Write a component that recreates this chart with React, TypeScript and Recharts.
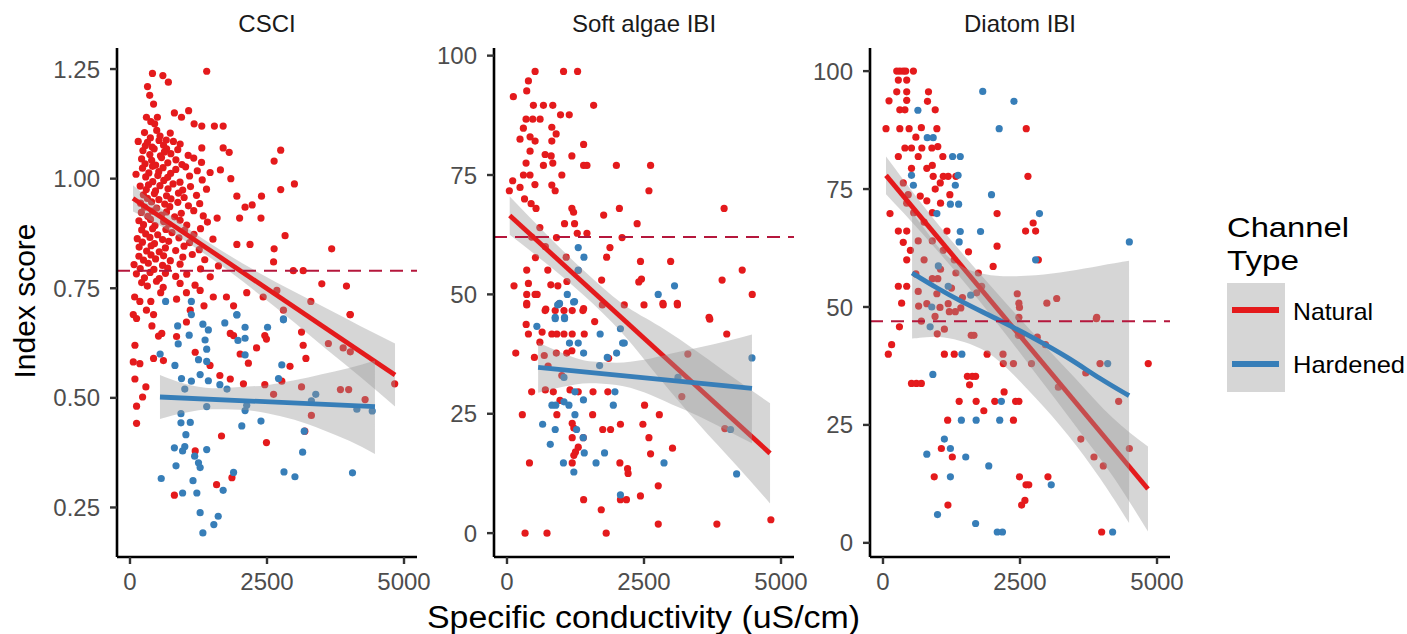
import React from 'react';
import { ComposedChart, Scatter, Line, Area, XAxis, YAxis, ReferenceLine } from 'recharts';

type P = [number, number];
type B = [number, number, number];

const RED = '#E41A1C';
const BLUE = '#377EB8';
const FONT = '"Liberation Sans", Arial, Helvetica, sans-serif';

const panelTitles = ['CSCI', 'Soft algae IBI', 'Diatom IBI'];
const seriesNames = ['Natural', 'Hardened'];
const xTicks = [0, 2500, 5000];
const csciTicks = [0.25, 0.5, 0.75, 1.0, 1.25];
const ibiTicks = [0, 25, 50, 75, 100];
const refValues = [0.79, 62, 47];
const xTitle = 'Specific conductivity (uS/cm)';
const yTitle = 'Index score';
const legendTitle = ['Channel', 'Type'];

// ---------- CSCI ----------
const csciNatural: P[] = [
  [410,1.24],[600,1.235],[700,1.22],[1400,1.245],[320,1.21],[360,1.19],[430,1.17],[300,1.14],[380,1.13],[450,1.125],
  [500,1.14],[810,1.15],[940,1.14],[1070,1.155],[1170,1.125],[1310,1.12],[1540,1.12],[1700,1.12],[150,1.085],[280,1.075],
  [1310,1.07],[1700,1.07],[1810,1.06],[2750,1.065],[2630,1.04],[110,1.01],[1650,1.02],[1840,1.0],[2750,0.975],[3000,0.988],
  [1950,0.96],[2400,0.96],[2100,0.935],[2230,0.94],[2000,0.91],[2390,0.91],[1590,0.91],[2830,0.87],[1950,0.85],[2190,0.85],
  [2630,0.84],[3680,0.84],[2620,0.81],[2980,0.79],[3160,0.79],[3950,0.755],[85,0.73],[60,0.69],[430,0.69],[4015,0.69],
  [265,1.105],[372,1.093],[488,1.11],[548,1.097],[662,1.088],[735,1.104],
  [318,1.083],[405,1.072],[530,1.087],[612,1.076],[668,1.068],[792,1.085],[915,1.079],
  [236,1.064],[362,1.055],[441,1.068],[556,1.052],[628,1.061],[745,1.057],[872,1.066],[1062,1.053],
  [212,1.045],[275,1.034],[395,1.042],[468,1.031],[575,1.048],[690,1.036],[838,1.043],[948,1.032],[1163,1.047],[1305,1.037],
  [228,1.024],[344,1.013],[411,1.028],[525,1.016],[603,1.025],[742,1.012],[836,1.021],[1015,1.027],[1228,1.018],[1462,1.014],
  [287,1.004],[415,0.993],[508,1.007],[617,0.996],[688,1.003],[912,0.992],[1087,1.006],[1318,0.997],
  [186,0.983],[297,0.975],[338,0.986],[466,0.972],[547,0.984],[694,0.977],[786,0.988],[962,0.974],[1104,0.982],[1396,0.976],
  [244,0.963],[318,0.955],[446,0.966],[527,0.952],[667,0.961],[748,0.954],[884,0.967],[988,0.957],[1214,0.962],
  [193,0.944],[266,0.935],[394,0.947],[487,0.933],[634,0.942],[726,0.936],[873,0.946],[1066,0.938],[1272,0.943],
  [208,0.923],[325,0.914],[407,0.926],[574,0.917],[667,0.924],[815,0.913],[936,0.921],[1163,0.927],[1337,0.915],
  [163,0.904],[247,0.895],[374,0.907],[456,0.893],[614,0.902],[707,0.896],[914,0.905],[1036,0.894],[1413,0.901],
  [214,0.883],[287,0.874],[413,0.886],[506,0.872],[655,0.884],[766,0.877],[994,0.882],[1167,0.873],[1287,0.886],
  [133,0.863],[227,0.855],[364,0.866],[447,0.852],[594,0.861],[706,0.857],[893,0.865],[1087,0.854],[1514,0.862],
  [167,0.844],[304,0.835],[386,0.847],[534,0.833],[646,0.842],[834,0.836],[986,0.846],[1264,0.838],
  [163,0.823],[247,0.814],[384,0.826],[467,0.817],[613,0.824],[736,0.813],[964,0.821],[1137,0.827],[1364,0.815],
  [74,0.804],[187,0.795],[334,0.807],[437,0.793],[594,0.802],[687,0.796],[914,0.805],[1287,0.794],[1614,0.801],
  [117,0.783],[264,0.774],[367,0.786],[534,0.772],[647,0.784],[834,0.777],[1036,0.782],[1464,0.776],
  [213,0.763],[317,0.755],[484,0.766],[606,0.752],[914,0.761],[1187,0.757],
  [560,0.74],[850,0.725],[1030,0.74],[1280,0.745],[1520,0.73],[1760,0.73],[1890,0.71],[2130,0.74],[2430,0.73],[2680,0.745],
  [180,0.72],[380,0.72],[300,0.7],[1100,0.7],[1350,0.71],[2800,0.7],[3300,0.72],[3500,0.76],
  [120,0.681],[400,0.664],[580,0.647],[520,0.641],[850,0.64],[1030,0.673],[90,0.62],[60,0.582],[180,0.578],[430,0.59],
  [610,0.585],[90,0.543],[290,0.525],[230,0.502],[120,0.481],[120,0.442],[1190,0.604],[1460,0.574],[1640,0.551],[1830,0.543],
  [2070,0.532],[2010,0.6],[2160,0.579],[1830,0.647],[1890,0.642],[2310,0.614],[2460,0.642],[2490,0.634],[2920,0.572],[3160,0.62],
  [3130,0.65],[3210,0.59],[2770,0.538],[2460,0.53],[2620,0.508],[3130,0.525],[3310,0.46],[3190,0.424],[3620,0.624],[3890,0.614],
  [4020,0.605],[4020,0.69],[3840,0.519],[3990,0.519],[4290,0.496],[4830,0.532],[2490,0.398],[1670,0.413],[1190,0.379],[1580,0.302],
  [1860,0.318],[810,0.278],
];
const csciHardened: P[] = [
  [650,0.72],[1120,0.72],[1950,0.69],[2800,0.68],
  [550,0.6],[820,0.574],[880,0.623],[870,0.664],[1080,0.643],[1120,0.69],[1330,0.668],[1430,0.655],[1370,0.632],[1400,0.611],
  [1250,0.587],[1400,0.583],[1280,0.553],[1120,0.538],[940,0.544],[1430,0.539],[1640,0.53],[1730,0.671],[1950,0.689],[2100,0.661],
  [2100,0.636],[1970,0.631],[2100,0.598],[2510,0.661],[2800,0.678],[2770,0.575],[2710,0.544],[1000,0.52],[930,0.464],[930,0.443],
  [1100,0.444],[1020,0.416],[810,0.386],[1000,0.389],[960,0.379],[1180,0.367],[1400,0.382],[840,0.345],[1250,0.352],[1280,0.341],
  [1150,0.311],[570,0.316],[960,0.283],[1220,0.283],[1700,0.289],[1890,0.33],[1280,0.238],[1610,0.23],[1530,0.211],[1330,0.192],
  [2040,0.436],[2390,0.447],[2100,0.471],[3150,0.376],[3180,0.424],[2810,0.331],[3010,0.32],[3390,0.508],[3310,0.493],[4060,0.329],
  [4140,0.474],[4420,0.47],[1400,0.48],[1770,0.52],[2130,0.483],
];
const csciNaturalFit: P[] = [[55, 0.955], [4836, 0.552]];
const csciHardenedFit: P[] = [[547, 0.502], [4470, 0.48]];
const csciNaturalBand: B[] = [
  [55,0.925,0.985],[600,0.889,0.929],[1200,0.842,0.874],[1800,0.79,0.826],[2400,0.732,0.782],
  [3000,0.672,0.742],[3600,0.609,0.703],[4200,0.548,0.664],[4836,0.48,0.624],
];
const csciHardenedBand: B[] = [
  [547,0.452,0.552],[1000,0.466,0.532],[1500,0.474,0.522],[2000,0.473,0.525],[2500,0.465,0.529],
  [3000,0.45,0.54],[3500,0.428,0.554],[4000,0.402,0.568],[4470,0.372,0.585],
];

// ---------- Soft algae IBI ----------
const softNatural: P[] = [
  [513,96.7],[1032,96.7],[1288,96.7],[391,94.7],[360,92.6],[116,91.4],[482,89.6],[665,89.6],[836,89.6],[977,87.6],
  [1136,87.6],[1581,89.6],[348,86.7],[470,86.7],[604,86.7],[299,84.8],[818,85],[897,83.6],[238,82.5],[421,83],
  [513,82.1],[818,82.1],[421,80],[696,79.3],[806,79],[1184,79],[1398,81.4],[1398,77],[1459,77],[1996,77],
  [2620,77],[348,77.5],[665,77],[836,77.5],[2590,71.7],[879,71.7],[104,73.8],[238,72.4],[43,71.7],[300,75],
  [420,75],[510,73],[818,72.9],[1001,75],[320,70],[440,69],[530,68],[1184,68],[1215,67.2],[1764,66.6],
  [2051,68],[3962,68],[2375,64.8],[1050,64.8],[1233,64.8],[1282,62.8],[1459,62.8],[903,61.9],[2100,61.9],[519,57.7],
  [1080,57.8],[1879,59.8],[1818,57.8],[2436,56.9],[2986,56.9],[360,55.1],[745,55.1],[1727,53],[2454,53.2],[3925,53],
  [4292,55.1],[128,51.8],[391,52.3],[928,51.8],[1093,52.7],[360,50],[513,50],[4475,50],[360,48.1],[708,46.9],
  [1398,47],[2845,48.1],[3107,48.1],[3687,45.2],[2405,52.6],
  [360,47.8],[696,46.6],[880,46.6],[1040,46.6],[1190,46.6],[1385,46.6],[350,43.7],[391,41.7],[641,42.1],[818,41.7],
  [910,41.7],[1040,41.7],[1190,41.7],[1410,41.7],[1600,44.3],[1740,47.8],[2140,47.8],[2500,47.8],[2850,47.8],[3110,47.8],
  [3700,44.8],[4010,41.7],[160,37.7],[500,36.8],[680,37.2],[900,37.7],[1090,37.7],[1184,38.2],[1855,36.6],[450,29.6],
  [845,29.6],[967,27.8],[1300,29.6],[1570,29.6],[1840,29.6],[2510,26.8],[280,24.8],[910,24.8],[1190,23],[1220,22],
  [1563,24.8],[2070,22.8],[2480,22.8],[2780,24.8],[1747,21.7],[1890,21.7],[1190,20],[1392,20],[2590,20],[1300,18],
  [1250,17],[1220,16.3],[3020,17.8],[2620,16.6],[410,14.7],[1190,14.7],[2060,14.7],[2210,12.5],[2200,13.5],[2760,9.9],
  [1398,7],[2070,7],[2180,7],[2435,7.8],[1720,4.9],[2760,1.9],[3830,1.9],[4815,2.8],[330,0],[730,0],
  [1810,0],[3975,21.9],[3190,28.6],[3300,37.5],
  [600,40],[750,35],[1000,33],[1150,30],[700,30],[550,50],[800,52],[950,48],[1300,55],[700,60],[450,62],[600,64],
];
const softHardened: P[] = [
  [1300,59.8],[1404,57.8],[1300,55.1],[1100,50],[1233,48.5],[959,48.1],[2759,50],[3057,51.8],[880,45.2],[1050,45.2],
  [545,43.3],[880,44.9],[1050,44.9],[925,47.8],[1215,48.4],[1300,39.8],[1398,37.7],[1140,39.8],[1700,41.7],[1690,35.1],
  [2000,37.7],[2110,39.8],[2140,39.8],[2070,42.8],[1830,36.8],[1970,29.6],[1940,26.8],[820,26.8],[890,26.8],[1040,27.5],
  [1130,26.8],[1240,29.6],[1395,27.9],[1240,24.8],[1270,21.7],[880,21.7],[650,22.8],[790,18.6],[1392,20],[1410,16.8],
  [1030,14.7],[1220,12.8],[1780,16.8],[1625,14.7],[2865,14.7],[2070,8],[4190,12.4],[4470,36.7],[4080,21.7],[3120,32.6],
  [1040,32.6],
];
const softNaturalFit: P[] = [[50, 66.5], [4800, 16.7]];
const softHardenedFit: P[] = [[568, 34.7], [4470, 30.3]];
const softNaturalBand: B[] = [
  [50,62.5,70.5],[700,56.6,62.8],[1400,49.8,55],[2100,41.9,48.1],[2800,32.2,43.2],
  [3500,22.8,37.8],[4200,14,32],[4800,6.2,27.2],
];
const softHardenedBand: B[] = [
  [568,29.4,39.9],[1000,30.6,37.8],[1500,31.4,36],[2000,31,35.7],[2500,29.5,36.3],
  [3000,27,37.6],[3500,24.5,38.9],[4000,21.6,40.2],[4470,18.8,41.6],
];

// ---------- Diatom IBI ----------
const diatomNatural: P[] = [
  [251,100],[307,100],[368,100],[415,100],[555,100],[280,98.1],[433,98.1],[110,93.7],[251,95.6],[433,95.6],
  [830,95.6],[433,93.8],[812,93.6],[307,91.8],[400,91.8],[953,91.8],[55,87.8],[307,87.8],[477,87.8],[983,87.8],
  [2614,87.8],[280,81.9],[400,83.7],[520,83.7],[643,81.9],[709,83.7],[892,83.7],[1092,81.9],[520,79.4],[800,79.4],
  [916,77.7],[1100,77.7],[1190,77.7],[1330,77.7],[2645,77.7],[128,69.8],[433,72],[370,76.3],[460,73.8],[680,73.5],
  [800,72.5],[953,75],[1045,76.3],[1220,73.8],[2082,69.8],[280,66.1],[433,66.1],[1167,66.1],[2602,66.1],[2785,66.1],
  [2740,67.8],[370,63.7],[643,64],[2082,62.9],[1560,61.7],[433,60],[2010,58.6],[2835,60],[280,54.4],[433,54.4],
  [340,50.8],[643,53.3],[800,50.7],[983,52.8],[1190,50.7],[2990,50.8],[3170,51.8],[3892,47.5],[2480,50.8],[2450,52.8],
  [1710,53],[1800,54.4],[1330,57.2],[1740,57.2],
  [600,86],[700,88],[900,80],[1000,84],[560,70],[750,68],[900,70],[1050,72],[500,62],[750,60],[900,64],[1100,62],
  [600,57],[900,56],[1050,58],[1300,60],[1250,54],[1450,52],[700,47],[1000,56],
  [97,40],[158,42],[300,45.8],[520,33.8],[610,33.8],[700,33.8],[650,50.2],[950,48],[1040,49.9],[990,44.3],
  [1120,45.3],[1210,49],[1320,49],[1420,49.8],[1120,40],[1300,40],[1180,26],[1390,30],[1540,35.3],[1630,35.3],
  [1690,35.3],[1580,33.5],[1700,30],[1840,28],[1610,44],[1660,44],[1900,40],[2040,30],[2210,32],[2190,40],
  [2195,38],[2380,38],[2380,26],[2420,30],[2480,30],[2490,49.9],[2480,47.8],[2470,44],[2530,44],[2490,14],
  [2530,8],[2590,9],[2610,12.3],[2660,12.3],[935,14],[1065,20],[1265,18.2],[1185,8],[3010,14],[3610,22],
  [3850,18.2],[4020,16.3],[3960,38],[3900,47.8],[4300,30],[4495,20],[4840,38],[3990,2.3],[2815,43.6],[2710,38],
  [3700,36],[2965,42],[3200,33],
];
const diatomHardened: P[] = [
  [1820,95.7],[2390,93.6],[2120,87.8],[637,91.7],[808,85.9],[916,85.9],[1270,81.9],[1410,81.9],[520,77.9],[555,75.8],
  [1320,75.8],[1370,77.9],[1980,73.8],[983,69.8],[1230,71.8],[1380,71.8],[1410,66],[1780,66],[1390,63.8],[2855,69.8],
  [2785,60],[4495,63.8],[1010,58.7],[1190,54.4],[1600,52.5],[890,50],
  [910,35.7],[860,45.8],[800,18.8],[995,6],[1120,22],[1230,20],[1230,14],[1440,40],[1430,26],[1510,18.2],
  [1700,26],[1690,4.1],[1930,16.3],[2130,26],[2160,30],[2085,2.3],[2180,2.3],[3070,12.3],[4190,2.3],[4100,38],
];
const diatomNaturalFit: P[] = [[55, 77.9], [4835, 11.4]];
const diatomHardenedFit: P[] = [
  [531,57.2],[1000,53.9],[1400,51.3],[2144,47.1],[2755,43.4],[3370,39.4],[3980,34.6],[4490,31.2],
];
const diatomNaturalBand: B[] = [
  [55,73.9,81.9],[700,65.8,72],[1400,56.4,62],[2100,46.3,52.7],[2800,35.7,43.7],
  [3500,25,35],[4200,14,26.4],[4835,2.4,20.4],
];
const diatomHardenedBand: B[] = [
  [531,43.3,70],[800,43.6,66],[1000,43.8,62.5],[1400,43,58.5],[1780,41.4,57],[2144,38.6,56.4],
  [2800,30.6,56.6],[3370,23.2,57.5],[3980,13.6,58.8],[4490,4.2,59.8],
];

const X_DOMAIN: [number, number] = [-237, 5237];

const toPts = (a: P[]) => a.map(([x, y]) => ({ x, y }));
const toBand = (a: B[]) => a.map(([x, lo, hi]) => ({ x, band: [lo, hi] }));
const dot = (color: string) => (props: any) =>
  props.cx == null ? <g /> : <circle cx={props.cx} cy={props.cy} r={3.6} fill={color} />;

interface PanelProps {
  left: number;
  yDomain: [number, number];
  yTicks: number[];
  fmt: (v: number) => string;
  natural: P[];
  hardened: P[];
  natFit: P[];
  hardFit: P[];
  natBand: B[];
  hardBand: B[];
  refY: number;
  hardCurve?: boolean;
}

function Panel(p: PanelProps) {
  const tickStyle = { fill: '#4D4D4D', fontSize: 24, fontFamily: FONT };
  return (
    <div style={{ position: 'absolute', left: p.left, top: 0 }}>
      <ComposedChart width={450} height={600} margin={{ top: 48, right: 33, bottom: 0, left: 0 }}>
        <XAxis
          type="number"
          dataKey="x"
          domain={X_DOMAIN}
          ticks={xTicks}
          interval={0}
          allowDataOverflow
          height={43}
          tickSize={7}
          tickMargin={9}
          axisLine={{ stroke: '#000000', strokeWidth: 2.6 }}
          tickLine={{ stroke: '#333333', strokeWidth: 2.4 }}
          tick={tickStyle}
        />
        <YAxis
          type="number"
          dataKey="y"
          domain={p.yDomain}
          ticks={p.yTicks}
          interval={0}
          allowDataOverflow
          width={117}
          tickSize={7}
          tickMargin={10}
          tickFormatter={p.fmt}
          axisLine={{ stroke: '#000000', strokeWidth: 2.6 }}
          tickLine={{ stroke: '#333333', strokeWidth: 2.4 }}
          tick={tickStyle}
        />
        <Scatter data={toPts(p.natural)} dataKey="y" fill={RED} shape={dot(RED)} isAnimationActive={false} zIndex={100} />
        <Scatter data={toPts(p.hardened)} dataKey="y" fill={BLUE} shape={dot(BLUE)} isAnimationActive={false} zIndex={101} />
        <Area
          data={toBand(p.natBand)}
          dataKey="band"
          type="monotone"
          stroke="none"
          fill="#999999"
          fillOpacity={0.4}
          dot={false}
          activeDot={false}
          isAnimationActive={false}
          zIndex={110}
        />
        <Line
          data={toPts(p.natFit)}
          dataKey="y"
          type="linear"
          stroke={RED}
          strokeWidth={4.8}
          dot={false}
          activeDot={false}
          isAnimationActive={false}
          zIndex={111}
        />
        <Area
          data={toBand(p.hardBand)}
          dataKey="band"
          type={p.hardCurve ? 'basis' : 'monotone'}
          stroke="none"
          fill="#999999"
          fillOpacity={0.4}
          dot={false}
          activeDot={false}
          isAnimationActive={false}
          zIndex={112}
        />
        <Line
          data={toPts(p.hardFit)}
          dataKey="y"
          type={p.hardCurve ? 'basis' : 'linear'}
          stroke={BLUE}
          strokeWidth={4.8}
          dot={false}
          activeDot={false}
          isAnimationActive={false}
          zIndex={113}
        />
        <ReferenceLine y={p.refY} stroke="#B5173C" strokeDasharray="13 8" strokeWidth={2} zIndex={120} />
      </ComposedChart>
    </div>
  );
}

const fmt2 = (v: number) => v.toFixed(2);
const fmt0 = (v: number) => String(v);

export default function App() {
  const panelCenters = [267, 644, 1020];
  return (
    <div style={{ position: 'absolute', left: 0, top: 0, width: 1407, height: 634, background: '#ffffff', overflow: 'hidden' }}>
      <Panel
        left={0}
        yDomain={[0.137, 1.298]}
        yTicks={csciTicks}
        fmt={fmt2}
        natural={csciNatural}
        hardened={csciHardened}
        natFit={csciNaturalFit}
        hardFit={csciHardenedFit}
        natBand={csciNaturalBand}
        hardBand={csciHardenedBand}
        refY={refValues[0]}
      />
      <Panel
        left={377}
        yDomain={[-5, 101.6]}
        yTicks={ibiTicks}
        fmt={fmt0}
        natural={softNatural}
        hardened={softHardened}
        natFit={softNaturalFit}
        hardFit={softHardenedFit}
        natBand={softNaturalBand}
        hardBand={softHardenedBand}
        refY={refValues[1]}
      />
      <Panel
        left={753}
        yDomain={[-3, 104.9]}
        yTicks={ibiTicks}
        fmt={fmt0}
        natural={diatomNatural}
        hardened={diatomHardened}
        natFit={diatomNaturalFit}
        hardFit={diatomHardenedFit}
        natBand={diatomNaturalBand}
        hardBand={diatomHardenedBand}
        refY={refValues[2]}
        hardCurve
      />
      <svg width={1407} height={634} style={{ position: 'absolute', left: 0, top: 0, pointerEvents: 'none' }} fontFamily={FONT}>
        {panelTitles.map((t, i) => (
          <text key={t} x={panelCenters[i]} y={32} textAnchor="middle" fontSize={24} fill="#1A1A1A">
            {t}
          </text>
        ))}
        <text x={643.5} y={628} textAnchor="middle" fontSize={31} fill="#000000" textLength={433} lengthAdjust="spacingAndGlyphs">
          {xTitle}
        </text>
        <text transform="translate(35,301) rotate(-90)" textAnchor="middle" fontSize={30} fill="#000000">
          {yTitle}
        </text>
        <text x={1227} y={237} fontSize={28} fill="#000000" textLength={122} lengthAdjust="spacingAndGlyphs">
          {legendTitle[0]}
        </text>
        <text x={1227} y={270} fontSize={28} fill="#000000" textLength={72} lengthAdjust="spacingAndGlyphs">
          {legendTitle[1]}
        </text>
        <rect x={1227} y={283} width={58} height={109} fill="#D6D6D6" />
        <line x1={1232} x2={1279} y1={310} y2={310} stroke={RED} strokeWidth={6} />
        <line x1={1232} x2={1279} y1={364} y2={364} stroke={BLUE} strokeWidth={6} />
        <text x={1293} y={320} fontSize={24} fill="#000000" textLength={80} lengthAdjust="spacingAndGlyphs">
          {seriesNames[0]}
        </text>
        <text x={1293} y={373} fontSize={24} fill="#000000" textLength={112} lengthAdjust="spacingAndGlyphs">
          {seriesNames[1]}
        </text>
      </svg>
    </div>
  );
}
